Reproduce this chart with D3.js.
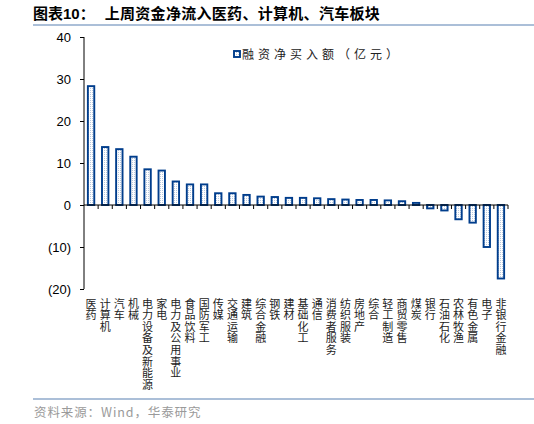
<!DOCTYPE html>
<html>
<head>
<meta charset="utf-8" />
<title>上周资金净流入</title>
<script src="https://cdn.jsdelivr.net/npm/d3@7/dist/d3.min.js"></script>
<style>
  body { margin: 0; background: #fff; }
  svg { display: block; }
  .axis path, .axis line { stroke: #000; }
  .ytick text { font-family: "Liberation Sans", Arial, sans-serif; font-size: 13px; fill: #000; }
  .cat { font-family: "Noto Sans CJK SC", sans-serif; font-size: 11px; fill: #222;
         writing-mode: vertical-rl; letter-spacing: 0.6px; }
</style>
</head>
<body>
<svg id="chart" width="534" height="424"></svg>
<script>
// 行业
var categories = ["医药", "计算机", "汽车", "机械", "电力设备及新能源", "家电", "电力及公用事业",
  "食品饮料", "国防军工", "传媒", "交通运输", "建筑", "综合金融", "钢铁", "建材", "基础化工",
  "通信", "消费者服务", "纺织服装", "房地产", "综合", "轻工制造", "商贸零售", "煤炭", "银行",
  "石油石化", "农林牧渔", "有色金属", "电子", "非银行金融"];
// 融资净买入额（亿元）
var netBuy = [28.3, 13.8, 13.3, 11.5, 8.5, 8.2, 5.6, 4.9, 4.9, 2.8, 2.8, 2.4, 2.0, 1.9, 1.7, 1.7,
  1.6, 1.4, 1.3, 1.2, 1.2, 1.1, 0.9, 0.5, -0.8, -1.3, -3.4, -4.2, -10.0, -17.5];
var yTicks = [40, 30, 20, 10, 0, -10, -20];
var seriesName = "融资净买入额（亿元）";
var titleText = "上周资金净流入医药、计算机、汽车板块";
var sourceText = "资料来源：Wind，华泰研究";

var svg = d3.select("#chart");
var blue = "#003d8c";

// dotted fill like the original
var defs = svg.append("defs");
var pat = defs.append("pattern").attr("id", "dots")
    .attr("width", 2).attr("height", 2).attr("patternUnits", "userSpaceOnUse");
pat.append("rect").attr("width", 2).attr("height", 2).attr("fill", "#ffffff");
pat.append("rect").attr("width", 1).attr("height", 1).attr("fill", "#b8c9e0");

// title
var title = svg.append("text").attr("x", 33).attr("y", 19)
    .style("font-family", "'Noto Sans CJK SC', sans-serif").style("font-size", "15px")
    .style("font-weight", "bold").attr("fill", "#000");
title.append("tspan").text("图表");
title.append("tspan").style("font-family", "'Liberation Sans', Arial, sans-serif").text("10");
title.append("tspan").text("：");
title.append("tspan").attr("dx", 10).style("letter-spacing", "0.3px").text(titleText);

svg.append("line").attr("x1", 33).attr("x2", 534).attr("y1", 25).attr("y2", 25)
    .attr("stroke", "#8faacb").attr("stroke-width", 1.5);
svg.append("line").attr("x1", 33).attr("x2", 534).attr("y1", 399).attr("y2", 399)
    .attr("stroke", "#8faacb").attr("stroke-width", 1.5);

svg.append("text").attr("x", 34).attr("y", 417).text(sourceText)
    .style("font-family", "'Noto Sans CJK SC', sans-serif").style("font-size", "12.5px")
    .style("letter-spacing", "0.9px").attr("fill", "#9a9a9a");

var xb = d3.scaleBand().domain(categories).range([84, 508]);
var y = d3.scaleLinear().domain([-20, 40]).range([289, 37]);

// y axis
var yAxis = svg.append("g").attr("class", "axis ytick")
    .attr("transform", "translate(84,0)")
    .call(d3.axisLeft(y).tickValues(yTicks).tickSize(4).tickPadding(9)
      .tickFormat(function(d) { return d < 0 ? "(" + Math.abs(d) + ")" : d; }));
yAxis.select(".domain").attr("d", "M0," + y(40) + "V" + y(-20));

// bars
svg.selectAll(".bar").data(netBuy).enter().append("rect")
    .attr("class", "bar")
    .attr("x", function(d, i) { return xb(categories[i]) + xb.bandwidth() / 2 - 3.2; })
    .attr("width", 6.4)
    .attr("y", function(d) { return y(Math.max(0, d)); })
    .attr("height", function(d) { return Math.abs(y(d) - y(0)); })
    .attr("fill", "url(#dots)")
    .attr("stroke", blue).attr("stroke-width", 1.9);

// x axis (zero line with ticks between categories)
var xg = svg.append("g").attr("class", "axis");
xg.append("line").attr("x1", 84).attr("x2", 508).attr("y1", y(0)).attr("y2", y(0))
    .attr("stroke", "#000");
xg.selectAll(".xt").data(categories).enter().append("line")
    .attr("x1", function(d) { return xb(d) + xb.bandwidth(); })
    .attr("x2", function(d) { return xb(d) + xb.bandwidth(); })
    .attr("y1", y(0)).attr("y2", y(0) + 4).attr("stroke", "#000");

// vertical category labels
svg.selectAll(".cat").data(categories).enter().append("text")
    .attr("class", "cat")
    .attr("x", function(d) { return xb(d) + xb.bandwidth() / 2; })
    .attr("y", 298)
    .text(function(d) { return d; });

// legend
svg.append("rect").attr("x", 234).attr("y", 51).attr("width", 6).attr("height", 6)
    .attr("fill", "url(#dots)").attr("stroke", blue).attr("stroke-width", 1.9);
svg.append("text").attr("x", 242).attr("y", 59).text(seriesName)
    .style("font-family", "'Noto Sans CJK SC', sans-serif").style("font-size", "12px")
    .style("letter-spacing", "4px").attr("fill", "#222");
</script>
</body>
</html>
